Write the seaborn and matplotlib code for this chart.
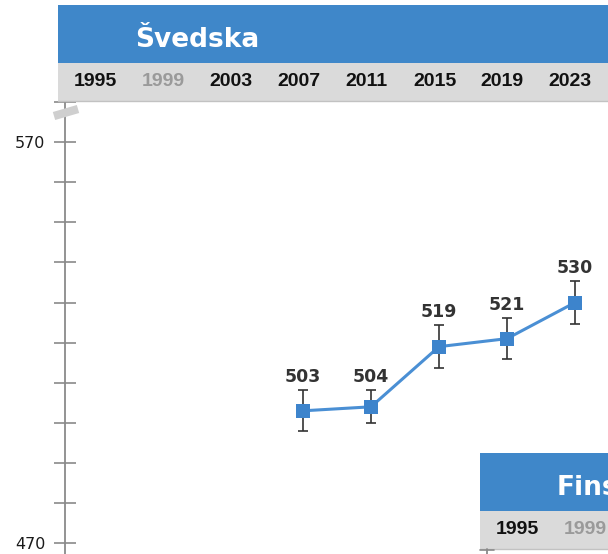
import numpy as np
import pandas as pd
import matplotlib
matplotlib.use('Agg')
import matplotlib.pyplot as plt
import seaborn as sns
from matplotlib.patches import Rectangle

# podaci - Švedska
godine = [2007, 2011, 2015, 2019, 2023]
rezultati = [503, 504, 519, 521, 530]
greske = [5.1, 4.1, 5.3, 5.1, 5.4]

# ciklusi u zaglavlju (siva = zemlja nije sudjelovala)
ciklusi = [1995, 1999, 2003, 2007, 2011, 2015, 2019, 2023]
sudjelovala_sve = [True, False, True, True, True, True, True, True]
sudjelovala_fin = [True, False]

drzave = ['Švedska', 'Finska']

y_oznake = [470, 570]

plava = '#3f87c9'
siva = '#dadada'

W, H = 608, 554

sns.set_theme(style='white')
plt.rcParams['font.family'] = ['DejaVu Sans']

fig = plt.figure(figsize=(W / 100, H / 100), dpi=100)

# glavni graf
ax = fig.add_axes([65 / W, 0, (W - 65) / W, 1 - 102 / H])
df = pd.DataFrame({'godina': godine, 'rezultat': rezultati, 'greska': greske})

ax.errorbar(df['godina'], df['rezultat'], yerr=df['greska'], fmt='none',
            ecolor='#333333', elinewidth=1.2, capsize=3.5, capthick=1.2, zorder=2)
sns.lineplot(data=df, x='godina', y='rezultat', marker='s', markersize=10,
             color='#4a8fd4', linewidth=2.2, markerfacecolor='#3d84cc',
             markeredgewidth=0, ax=ax, zorder=3)

for g, r, e in zip(df['godina'], df['rezultat'], df['greska']):
    ax.annotate(str(r), (g, r + e), xytext=(0, 3), textcoords='offset points',
                ha='center', va='bottom', fontsize=12.5, fontweight='bold',
                color='#333333')

ax.set_xlim(2007 - 238 / 17, 2007 + 305 / 17)
ax.set_ylim(467.3, 580)
ax.set_xlabel('')
ax.set_ylabel('')
ax.set_xticks([])
ax.set_yticks(y_oznake)
ax.set_yticks(np.arange(470, 581, 10), minor=True)
ax.tick_params(axis='y', which='both', direction='inout', length=16, width=1.2,
               color='#8a8a8a', left=True)
ax.tick_params(axis='y', which='major', labelsize=11.5, labelcolor='#1a1a1a', pad=6)
for s in ['top', 'right', 'bottom']:
    ax.spines[s].set_visible(False)
ax.spines['left'].set_color('#8a8a8a')
ax.spines['left'].set_linewidth(1.3)
ax.patch.set_visible(False)

# sloj za zaglavlja
ov = fig.add_axes([0, 0, 1, 1], zorder=5)
ov.set_xlim(0, W)
ov.set_ylim(H, 0)
ov.axis('off')
ov.patch.set_visible(False)


def zaglavlje(x0, y0, naziv, sudjelovala):
    ov.add_patch(Rectangle((x0, y0), 800, 58, color=plava, lw=0))
    ov.add_patch(Rectangle((x0, y0 + 58), 800, 38, color=siva, lw=0))
    ov.plot([x0, x0 + 800], [y0 + 96, y0 + 96], color='#c2c2c2', lw=1)
    ov.text(x0 + 77, y0 + 42, naziv, ha='left', va='baseline', fontsize=19,
            fontweight='bold', color='white')
    for i, (c, s) in enumerate(zip(ciklusi, sudjelovala)):
        ov.text(x0 + 37 + i * 67.9, y0 + 77, str(c), ha='center', va='center',
                fontsize=14, fontweight='bold', family='Liberation Sans',
                color='#111111' if s else '#9a9a9a')


zaglavlje(58, 5, drzave[0], sudjelovala_sve)
zaglavlje(480, 453, drzave[1], sudjelovala_fin)

# oznaka prekida osi
ov.plot([54, 78], [116, 109], color='#cfcfcf', lw=6, solid_capstyle='butt')
# početak osi druge zemlje
ov.plot([487, 487], [549, 554], color='#8a8a8a', lw=1.3)
ov.plot([480, 494], [550, 550], color='#8a8a8a', lw=1.2)

fig.savefig('out.png', dpi=100)
